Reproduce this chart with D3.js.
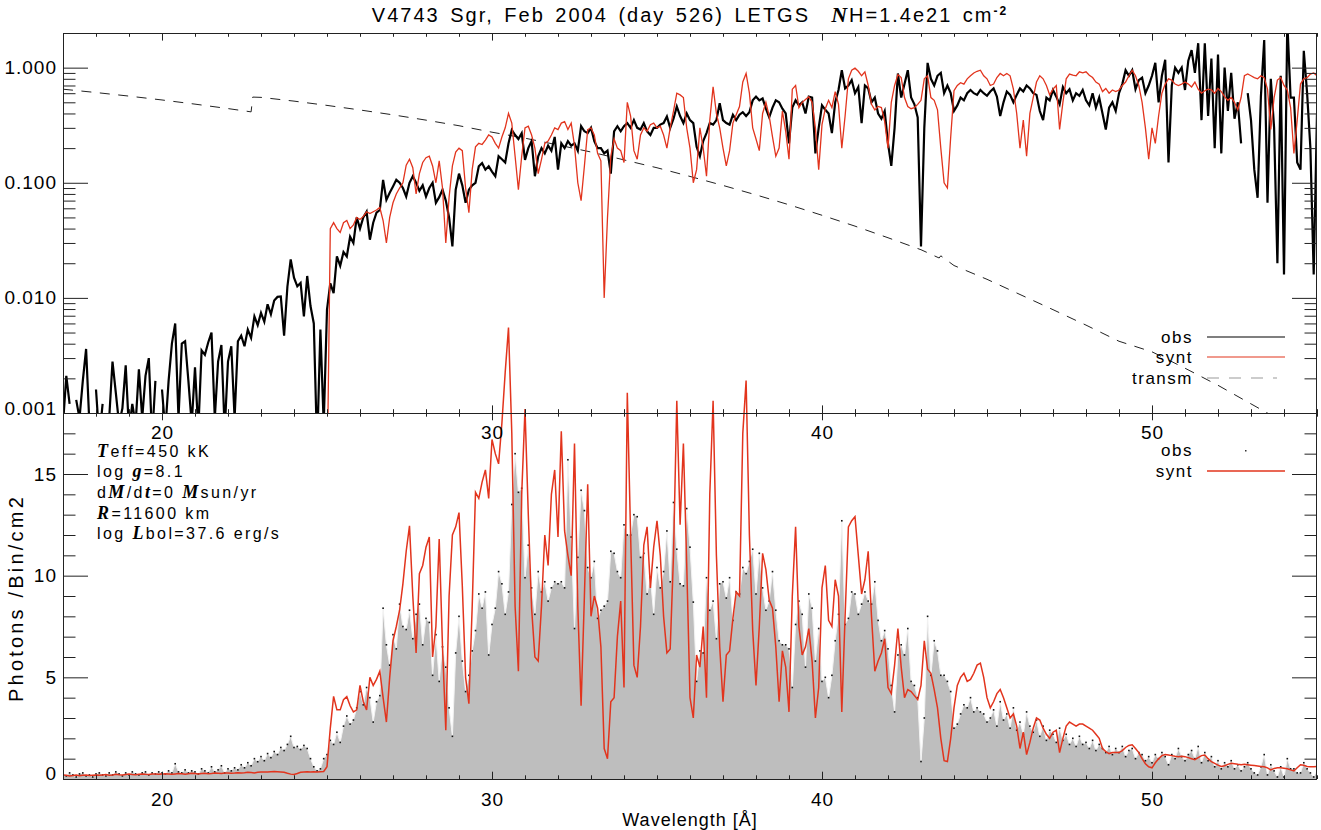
<!DOCTYPE html>
<html>
<head>
<meta charset="utf-8">
<script src="https://cdn.jsdelivr.net/npm/d3@7"></script>
<style>
  body { margin: 0; background: #fff; }
  text { white-space: pre; }
</style>
</head>
<body>
<svg id="chart" width="1321" height="830"></svg>
<script>
// ---- data ----
const waveStart = 17.0;      // first bin, Angstrom
const waveStep = 0.1;        // bin width, Angstrom
const topSyntStart = 25.0;   // model flux only plotted from here

// observed flux (top panel, log scale); null = negative / no data
const topObs = [
  0.0008,0.0021,0.0012,null,0.0013,0.0009,0.0019,0.0036,0.0008,null,
  0.0016,0.0006,0.0012,null,0.0009,0.0028,0.0015,0.0008,0.0011,0.0026,
  0.0007,0.0012,0.0008,0.0024,0.0009,0.0021,0.003,0.0006,0.0019,null,
  0.0016,0.0007,0.0019,0.004,0.006,0.0009,0.004,0.0042,0.0019,0.0008,
  0.0025,0.0007,0.0035,0.0032,0.0041,0.005,0.0009,0.0028,0.0039,0.0007,
  0.0028,0.0038,0.0009,0.0042,0.0047,0.0038,0.0053,0.0045,0.0069,0.0058,
  0.0074,0.0062,0.0088,0.0072,0.0095,0.0102,0.0103,0.0047,0.0125,0.0216,
  0.015,0.0126,0.0135,0.0069,0.0155,0.0085,0.006,0.0005,0.0053,0.0008,
  0.0079,0.0134,0.011,0.0229,0.019,0.025,0.0229,0.034,0.03,0.05,
  0.04,0.05,0.056,0.032,0.045,0.055,0.058,0.106,0.071,0.082,
  0.093,0.106,0.1,0.09,0.076,0.1,0.114,0.1,0.085,0.095,
  0.076,0.09,0.1,0.067,0.075,0.087,0.07,0.05,0.028,0.087,
  0.12,0.095,0.067,0.087,0.095,0.1,0.139,0.148,0.13,0.139,
  0.125,0.114,0.17,0.16,0.15,0.22,0.288,0.26,0.24,0.27,
  0.158,0.2,0.23,0.114,0.17,0.2,0.18,0.21,0.19,0.25,
  0.13,0.22,0.2,0.23,0.21,0.22,0.19,0.31,0.28,0.27,
  0.3,0.23,0.2,0.2,0.18,0.19,0.12,0.28,0.31,0.28,
  0.31,0.33,0.3,0.35,0.3,0.29,0.33,0.28,0.26,0.3,
  0.3,0.32,0.33,0.376,0.3,0.36,0.46,0.38,0.33,0.4,
  0.35,0.33,0.206,0.17,0.23,0.27,0.33,0.32,0.35,0.49,
  0.35,0.33,0.32,0.39,0.35,0.39,0.41,0.38,0.41,0.52,
  0.56,0.52,0.54,0.44,0.37,0.45,0.52,0.5,0.44,0.4,
  0.22,0.45,0.52,0.47,0.5,0.4,0.56,0.55,0.18,0.3,
  0.47,0.43,0.4,0.27,0.5,0.64,0.95,0.66,0.7,0.78,
  0.6,0.68,0.33,0.7,0.66,0.5,0.55,0.4,0.36,0.42,
  0.22,0.14,0.3,0.89,0.55,0.72,0.95,0.55,0.48,0.37,
  0.028,0.3,1.1,0.8,0.7,0.85,0.9,0.6,0.7,0.6,
  0.42,0.47,0.55,0.52,0.6,0.64,0.6,0.58,0.64,0.6,
  0.57,0.62,0.66,0.56,0.38,0.5,0.62,0.58,0.5,0.58,
  0.66,0.62,0.7,0.66,0.6,0.58,0.42,0.35,0.55,0.52,
  0.64,0.56,0.48,0.68,0.6,0.65,0.52,0.6,0.57,0.64,
  0.52,0.47,0.6,0.45,0.55,0.4,0.29,0.45,0.5,0.42,
  0.6,0.72,0.95,0.85,0.95,0.65,0.78,0.82,0.6,0.7,
  0.85,1.1,0.5,0.85,1.17,0.15,0.7,1.0,0.9,1.0,
  0.64,1.15,1.42,0.9,1.63,0.35,1.63,0.38,1.2,0.2,
  1.3,0.18,1.0,0.42,0.9,0.36,0.5,0.22,null,0.6,
  0.35,0.13,0.074,0.56,1.74,0.067,0.8,0.3,0.02,0.85,
  0.016,2.5,0.55,0.55,0.15,0.13,1.4,0.6,0.2,0.016,
  0.4
];

// synthetic flux (top panel), from 25.0 A
const topSynt = [
  0.0002,0.04,0.045,0.04,0.037,0.045,0.047,0.04,0.043,0.05,
  0.048,0.051,0.056,0.054,0.056,0.058,0.061,0.047,0.03,0.05,
  0.067,0.08,0.09,0.1,0.142,0.16,0.135,0.08,0.12,0.15,
  0.165,0.17,0.14,0.1,0.155,0.09,0.03,0.075,0.14,0.185,
  0.2,0.19,0.09,0.055,0.13,0.205,0.22,0.215,0.235,0.26,
  0.25,0.22,0.2,0.25,0.3,0.4,0.33,0.17,0.087,0.17,
  0.3,0.31,0.26,0.2,0.12,0.16,0.22,0.23,0.26,0.3,
  0.29,0.33,0.34,0.29,0.33,0.21,0.1,0.07,0.14,0.29,
  0.3,0.26,0.18,0.155,0.01,0.05,0.17,0.24,0.2,0.19,
  0.15,0.5,0.38,0.19,0.16,0.26,0.3,0.28,0.32,0.33,
  0.3,0.31,0.26,0.2,0.3,0.42,0.6,0.58,0.55,0.3,
  0.2,0.1,0.13,0.3,0.2,0.114,0.35,0.68,0.4,0.3,
  0.2,0.14,0.19,0.33,0.39,0.46,0.75,0.89,0.6,0.3,
  0.24,0.19,0.4,0.5,0.38,0.25,0.17,0.2,0.42,0.28,
  0.16,0.65,0.7,0.45,0.5,0.53,0.56,0.5,0.3,0.13,
  0.32,0.44,0.52,0.45,0.62,0.48,0.2,0.38,0.8,0.95,
  0.99,0.93,0.85,0.92,0.7,0.48,0.43,0.46,0.45,0.34,
  0.2,0.5,0.7,0.87,0.82,0.55,0.46,0.44,0.45,0.48,
  0.52,0.8,0.85,0.55,0.52,0.43,0.2,0.1,0.09,0.25,
  0.63,0.7,0.74,0.72,0.8,0.85,0.9,0.93,0.95,0.85,
  0.8,0.7,0.72,0.82,0.89,0.85,0.89,0.85,0.65,0.4,
  0.2,0.35,0.17,0.4,0.55,0.75,0.85,0.8,0.7,0.58,
  0.65,0.7,0.29,0.5,0.8,0.88,0.86,0.85,0.92,0.9,
  0.92,0.86,0.82,0.75,0.72,0.62,0.66,0.6,0.64,0.62,
  0.64,0.7,0.75,0.85,0.95,0.85,0.7,0.5,0.3,0.16,
  0.3,0.22,0.38,0.6,0.72,0.8,0.78,0.72,0.7,0.72,
  0.75,0.72,0.68,0.75,0.65,0.6,0.63,0.65,0.64,0.6,
  0.66,0.62,0.56,0.52,0.55,0.5,0.43,0.55,0.85,0.88,
  0.85,0.82,0.8,0.85,0.82,0.65,0.29,0.55,0.78,0.82,
  0.7,0.64,0.45,0.18,0.35,0.72,0.8,0.82,0.88,0.9,
  0.85
];

// observed counts per bin (bottom panel)
const countsObs = [
  0.25,0.15,0.3,0.2,0.1,0.25,0.3,0.15,0.2,0.1,
  0.25,0.3,0.2,0.15,0.3,0.2,0.35,0.25,0.15,0.3,
  0.2,0.35,0.25,0.2,0.3,0.35,0.2,0.3,0.25,0.35,
  0.3,0.25,0.4,0.3,0.75,0.35,0.3,0.45,0.3,0.4,
  0.35,0.25,0.5,0.4,0.3,0.6,0.35,0.45,0.65,0.3,
  0.5,0.4,0.55,0.45,0.7,0.55,0.8,0.65,1.0,0.85,
  1.1,0.9,1.25,1.05,1.35,1.2,1.55,1.4,1.7,2.1,
  1.55,1.6,1.45,1.65,1.5,1.0,0.6,0.4,0.5,1.0,
  1.2,1.9,1.7,2.3,1.8,2.6,3.1,2.7,2.9,3.5,
  4.3,3.65,4.5,4.0,2.8,3.8,4.1,8.4,6.6,5.6,
  7.1,6.4,8.6,7.5,7.35,8.3,6.9,8.1,8.6,6.6,
  7.9,7.7,5.1,7.1,4.8,6.5,5.5,3.5,2.1,6.2,
  8.0,5.8,4.3,5.1,6.3,7.3,9.1,8.4,9.2,6.1,
  7.6,8.4,10.2,9.6,8.1,9.2,13.5,16.0,14.1,14.3,
  9.9,11.5,9.4,8.1,10.2,9.2,9.7,8.75,9.4,9.7,
  9.6,9.7,9.4,15.7,11.9,7.4,10.9,14.2,13.2,10.4,
  9.9,10.7,7.9,8.3,8.5,8.75,11.2,11.1,10.2,9.9,
  12.5,12.0,12.0,13.0,12.9,10.9,11.1,9.1,9.9,8.1,
  10.4,9.4,10.2,12.2,9.7,13.6,11.3,9.6,9.5,13.3,
  11.4,8.7,4.8,6.3,6.2,9.9,8.3,8.75,6.9,9.6,
  9.7,8.9,9.9,7.8,9.2,9.1,10.4,10.1,10.7,11.3,
  9.1,11.1,9.4,8.3,8.75,10.2,8.3,6.8,6.6,6.6,
  6.4,4.5,7.6,8.75,8.1,5.5,9.1,8.4,5.8,7.4,
  4.8,5.0,4.0,5.1,6.8,8.1,12.7,7.6,7.9,9.2,
  9.1,8.1,8.6,9.2,8.75,8.6,9.7,7.8,6.8,7.3,
  6.4,4.6,3.3,6.1,6.6,6.1,7.4,4.8,4.6,4.0,
  0.86,3.0,8.0,5.1,6.8,6.3,5.1,5.1,4.8,4.3,
  2.5,2.7,3.2,3.65,3.5,4.0,3.3,3.5,3.3,3.2,
  2.8,3.0,3.4,2.6,3.8,2.9,3.2,2.5,3.5,2.4,
  2.8,2.2,3.3,2.6,2.3,2.9,2.1,2.6,1.9,2.4,
  2.2,1.8,2.5,1.9,2.2,1.7,2.0,1.6,2.1,1.7,
  1.8,1.5,1.9,1.4,1.7,1.5,1.3,1.6,1.2,1.5,
  1.3,1.6,1.1,1.4,1.5,1.0,1.3,1.2,0.9,1.1,
  0.8,1.2,1.0,1.3,1.1,0.7,1.2,1.0,1.5,1.1,
  0.9,1.2,1.4,1.0,1.6,0.8,1.3,0.9,1.1,0.6,
  0.9,0.5,0.8,0.6,0.9,0.5,0.7,0.4,0.6,0.8,
  0.5,0.3,0.2,0.6,1.2,0.2,0.7,0.4,0.1,0.6,
  0.1,1.0,0.5,0.5,0.3,0.3,0.8,0.5,0.3,0.1,
  0.4
];

// synthetic counts per bin (bottom panel)
const countsSynt = [
  0.2,0.18,0.15,0.17,0.2,0.16,0.18,0.2,0.17,0.19,
  0.2,0.18,0.2,0.22,0.19,0.2,0.23,0.21,0.2,0.22,
  0.24,0.22,0.21,0.23,0.25,0.23,0.22,0.24,0.25,0.23,
  0.24,0.26,0.25,0.23,0.25,0.27,0.26,0.24,0.26,0.28,
  0.27,0.25,0.27,0.28,0.26,0.27,0.29,0.28,0.27,0.29,
  0.3,0.28,0.29,0.31,0.3,0.31,0.33,0.32,0.3,0.33,
  0.34,0.35,0.34,0.36,0.37,0.36,0.35,0.33,0.28,0.24,
  0.22,0.27,0.33,0.35,0.36,0.35,0.36,0.35,0.36,0.37,
  0.6,2.5,4.06,3.4,3.4,3.9,4.05,3.6,3.3,3.4,
  4.6,3.8,3.4,5.0,4.6,4.9,5.3,4.0,2.8,5.0,
  6.8,7.5,8.3,9.6,11.2,12.45,9.0,6.2,10.1,10.5,
  11.4,11.9,6.0,7.5,11.8,6.5,2.4,9.0,12.0,12.4,
  13.1,9.5,5.0,3.7,8.5,14.1,13.8,14.6,15.2,13.8,
  16.7,16.0,15.5,17.5,20.0,22.2,17.0,8.5,5.3,14.0,
  18.2,13.0,8.4,6.0,5.8,8.5,12.0,10.5,14.0,15.2,
  11.9,17.1,12.2,11.0,10.0,16.5,8.5,3.6,9.0,14.5,
  8.0,9.0,8.4,6.5,1.5,1.0,3.8,4.0,7.0,8.75,
  4.5,19.0,12.0,5.6,5.0,7.5,11.5,12.4,9.4,11.4,
  12.7,11.0,8.0,6.2,6.4,11.0,18.6,12.5,16.5,10.6,
  4.0,3.0,6.1,5.5,7.5,4.0,14.0,18.6,11.0,6.5,
  3.8,6.1,6.3,7.9,9.2,9.0,17.0,19.6,12.0,7.3,
  4.6,7.5,11.1,10.3,8.8,8.4,6.5,3.8,6.3,5.5,
  3.3,9.0,12.4,7.5,6.1,6.5,7.4,5.8,3.0,4.5,
  9.4,10.5,7.8,7.5,9.8,9.0,3.3,8.0,12.4,12.7,
  12.9,11.0,9.1,9.8,11.2,8.0,5.3,5.8,6.2,6.9,
  4.5,4.2,5.6,7.4,5.5,4.0,4.4,4.3,4.1,3.9,
  4.6,6.8,5.4,5.2,4.4,3.5,2.0,0.9,0.86,2.0,
  3.5,4.6,5.0,5.2,4.8,4.9,5.2,5.6,5.7,5.0,
  4.0,3.5,3.8,4.2,4.4,4.0,3.5,3.0,3.2,2.6,
  1.5,2.3,1.2,1.8,2.5,3.0,2.9,2.5,2.2,2.0,
  2.3,2.4,1.3,2.0,2.6,2.8,2.7,2.6,2.7,2.7,
  2.6,2.5,2.4,2.2,2.0,1.5,1.35,1.25,1.3,1.3,
  1.3,1.4,1.55,1.65,1.68,1.5,1.3,1.0,0.75,0.6,
  0.55,0.8,1.0,1.15,1.2,1.18,1.15,1.12,1.1,1.12,
  1.1,1.05,1.0,0.95,1.05,1.15,1.18,1.0,0.85,0.77,
  0.68,0.62,0.65,0.72,0.77,0.75,0.72,0.7,0.72,0.7,
  0.68,0.66,0.64,0.62,0.6,0.55,0.45,0.52,0.55,0.55,
  0.53,0.5,0.45,0.4,0.55,0.7,0.68,0.62,0.6,0.6,
  0.62
];

// ISM transmission for NH=1.4e21
const transmWave = [17,18,19,20,21,22,22.7,22.75,23,24,25,26,27,28,29,30,31,32,33,34,35,36,37,38,39,40,
  41,42,43,43.55,43.6,44,45,46,47,48,49,50,51,52,53,54,55];
const transmVals = [0.65,0.608,0.566,0.524,0.482,0.441,0.413,0.555,0.552,0.512,0.47,0.429,0.389,0.35,
  0.313,0.275,0.244,0.213,0.185,0.158,0.135,0.1135,0.0948,0.0785,0.0644,0.0522,0.042,0.0333,0.0262,
  0.0222,0.0232,0.0191,0.0145,0.0107,0.0079,0.0058,0.0042,0.0034,0.00245,0.00174,0.0012,0.00083,0.00056];

const xMajor = [20, 30, 40, 50];
const topYMajor = [0.001, 0.01, 0.1, 1];
const botYMajor = [0, 5, 10, 15];

const titleParts = [["V4743 Sgr, Feb 2004 (day 526) LETGS  ", "n"], ["N", "i"], ["H=1.4e21 cm", "n"], ["-2", "s"]];
const paramLines = [
  [["T", "i"], ["eff=450 kK", "n"]],
  [["log ", "n"], ["g", "i"], ["=8.1", "n"]],
  [["d", "n"], ["M", "i"], ["/d", "n"], ["t", "i"], ["=0 ", "n"], ["M", "i"], ["sun/yr", "n"]],
  [["R", "i"], ["=11600 km", "n"]],
  [["log ", "n"], ["L", "i"], ["bol=37.6 erg/s", "n"]]
];

// ---- layout ----
const W = 1321, H = 830;
const left = 63, right = 1317, top1 = 33, mid = 413, bot = 779;
const FONT = '"Liberation Sans", Arial, sans-serif';
const SERIF = '"Liberation Serif", "DejaVu Serif", serif';
const RED = "#e2341d";

const svg = d3.select("#chart");
svg.append("rect").attr("width", W).attr("height", H).attr("fill", "#fff");

const x = d3.scaleLinear().domain([17, 55]).range([left, right]);
const yLog = d3.scaleLog().domain([0.001, 2]).range([mid, top1]);
const yLin = d3.scaleLinear().domain([0, 18]).range([bot, mid]);

const defs = svg.append("defs");
function clip(id, y0, y1) {
  defs.append("clipPath").attr("id", id).append("rect")
    .attr("x", left).attr("y", y0).attr("width", right - left).attr("height", y1 - y0);
}
clip("clipTop", top1, mid);
clip("clipBot", mid, bot);
clip("clipBotUp", 0, bot);

const wave = i => +(waveStart + i * waveStep).toFixed(2);
const obsPts = topObs.map((v, i) => ({ w: wave(i), v }));
const syntPts = topSynt.map((v, i) => ({ w: +(topSyntStart + i * waveStep).toFixed(2), v }));
const cObs = countsObs.map((v, i) => ({ w: wave(i), v }));
const cSynt = countsSynt.map((v, i) => ({ w: wave(i), v }));
const trPts = transmWave.map((w, i) => ({ w, v: transmVals[i] }));

// ---- top panel ----
const gTop = svg.append("g").attr("clip-path", "url(#clipTop)");
const logLine = d3.line().defined(d => d.v != null && d.v > 0).x(d => x(d.w)).y(d => yLog(d.v));

gTop.append("path").datum(trPts).attr("d", logLine)
  .attr("fill", "none").attr("stroke", "#222").attr("stroke-width", 1).attr("stroke-dasharray", "10,8.5");

gTop.append("path").datum(obsPts).attr("d", logLine)
  .attr("fill", "none").attr("stroke", "#000").attr("stroke-width", 2.2).attr("stroke-linejoin", "miter");

// isolated points (neighbours undefined) drawn as dots
const lonely = obsPts.filter((d, i) => d.v != null &&
  (i === 0 || obsPts[i - 1].v == null) && (i === obsPts.length - 1 || obsPts[i + 1].v == null));
gTop.selectAll("rect.lonely").data(lonely).join("rect").attr("class", "lonely")
  .attr("x", d => x(d.w) - 1).attr("y", d => yLog(d.v) - 1).attr("width", 2).attr("height", 2).attr("fill", "#000");

gTop.append("path").datum(syntPts).attr("d", logLine)
  .attr("fill", "none").attr("stroke", RED).attr("stroke-width", 1.3);

// ---- bottom panel ----
const gBot = svg.append("g").attr("clip-path", "url(#clipBot)");
gBot.append("path").datum(cObs)
  .attr("d", d3.area().x(d => x(d.w)).y0(bot).y1(d => yLin(d.v)))
  .attr("fill", "#bebebe");
gBot.append("path").datum(cObs)
  .attr("d", d3.line().x(d => x(d.w)).y(d => yLin(d.v)))
  .attr("fill", "none").attr("stroke", "#f3f3f3").attr("stroke-width", 1);
gBot.selectAll("rect.dot").data(cObs).join("rect").attr("class", "dot")
  .attr("x", d => x(d.w) - 0.8).attr("y", d => yLin(d.v) - 0.8)
  .attr("width", 1.6).attr("height", 1.6).attr("fill", "#111");

svg.append("g").attr("clip-path", "url(#clipBotUp)")
  .append("path").datum(cSynt)
  .attr("d", d3.line().x(d => x(d.w)).y(d => yLin(d.v)))
  .attr("fill", "none").attr("stroke", RED).attr("stroke-width", 1.5);

// ---- axes ----
function axis(gen, scale, values, size, pos, fmt, pad) {
  const a = gen(scale).tickValues(values).tickSize(size).tickPadding(pad || 0)
    .tickFormat(fmt || (() => ""));
  const g = svg.append("g").attr("transform", pos).call(a);
  g.select(".domain").remove();
  g.attr("font-family", null).attr("font-size", null);
  g.selectAll("line").attr("stroke", "#222");
  g.selectAll("text").attr("font-family", FONT).attr("font-size", 19)
    .attr("letter-spacing", 1).attr("fill", "#000");
  return g;
}
const xMinor = d3.range(17, 56).filter(v => !xMajor.includes(v));
const topYMinor = [];
[0.001, 0.01, 0.1].forEach(dec => d3.range(2, 10).forEach(k => topYMinor.push(+(k * dec).toPrecision(2))));
const botYMinor = d3.range(1, 18).filter(v => !botYMajor.includes(v));

// top panel x axes
axis(d3.axisBottom, x, xMajor, -7.6, `translate(0,${mid})`, d3.format("d"), 13);
axis(d3.axisBottom, x, xMinor, -3.8, `translate(0,${mid})`);
axis(d3.axisTop, x, xMajor, -7.6, `translate(0,${top1})`);
axis(d3.axisTop, x, xMinor, -3.8, `translate(0,${top1})`);
// bottom panel x axes
axis(d3.axisTop, x, xMajor, -7.3, `translate(0,${mid})`);
axis(d3.axisTop, x, xMinor, -3.7, `translate(0,${mid})`);
axis(d3.axisBottom, x, xMajor, -7.3, `translate(0,${bot})`, d3.format("d"), 14);
axis(d3.axisBottom, x, xMinor, -3.7, `translate(0,${bot})`);
// top panel y axes
const yTopLab = axis(d3.axisLeft, yLog, topYMajor, -25, `translate(${left},0)`, d3.format(".3f"), 6);
axis(d3.axisLeft, yLog, topYMinor, -12.5, `translate(${left},0)`);
axis(d3.axisRight, yLog, topYMajor, -25, `translate(${right},0)`);
axis(d3.axisRight, yLog, topYMinor, -12.5, `translate(${right},0)`);
// bottom panel y axes
const yBotLab = axis(d3.axisLeft, yLin, botYMajor, -25, `translate(${left},0)`, d3.format("d"), 6);
axis(d3.axisLeft, yLin, botYMinor, -12.5, `translate(${left},0)`);
axis(d3.axisRight, yLin, botYMajor, -25, `translate(${right},0)`);
axis(d3.axisRight, yLin, botYMinor, -12.5, `translate(${right},0)`);
// lowest labels sit a little above their tick
yTopLab.selectAll("text").filter(d => d === 0.001).attr("y", -5);
yBotLab.selectAll("text").filter(d => d === 0).attr("y", -6);

// frames
[[top1, mid], [mid, bot]].forEach(([a, b]) => {
  svg.append("rect").attr("x", left + 0.5).attr("y", a + 0.5)
    .attr("width", right - left - 1).attr("height", b - a)
    .attr("fill", "none").attr("stroke", "#222").attr("stroke-width", 1);
});

// ---- texts ----
function rich(parent, parts, size) {
  parts.forEach(([s, kind]) => {
    const t = parent.append("tspan").text(s);
    if (kind === "i") t.attr("font-family", SERIF).attr("font-style", "italic")
      .attr("font-weight", "bold").attr("font-size", size + 2);
    if (kind === "s") t.attr("font-size", size * 0.6).attr("baseline-shift", "super").attr("font-weight", "bold");
  });
}
const title = svg.append("text").attr("x", (left + right) / 2).attr("y", 22)
  .attr("text-anchor", "middle").attr("font-family", FONT).attr("font-size", 20)
  .attr("letter-spacing", 2).attr("word-spacing", 3);
rich(title, titleParts, 20);

paramLines.forEach((parts, i) => {
  const t = svg.append("text").attr("x", 97).attr("y", [451, 471, 492, 513, 533][i])
    .attr("dy", "0.35em").attr("font-family", FONT).attr("font-size", 16).attr("letter-spacing", 2.4);
  rich(t, parts, 16);
});

svg.append("text").attr("x", (left + right) / 2).attr("y", 820).attr("dy", "0.35em")
  .attr("text-anchor", "middle").attr("font-family", FONT).attr("font-size", 18).attr("letter-spacing", 1)
  .text("Wavelength [Å]");
svg.append("text").attr("transform", "translate(16,598) rotate(-90)").attr("dy", "0.35em")
  .attr("text-anchor", "middle").attr("font-family", FONT).attr("font-size", 20).attr("letter-spacing", 3.2)
  .text("Photons /Bin/cm2");

// legends
const legTop = [
  { label: "obs", y: 337, stroke: "#000", dash: null, x2: 1285 },
  { label: "synt", y: 357, stroke: RED, dash: null, x2: 1285 },
  { label: "transm", y: 378, stroke: "#999", dash: "12,10", x2: 1277 }
];
function legText(label, y) {
  svg.append("text").attr("x", 1193).attr("y", y).attr("dy", "0.35em").attr("text-anchor", "end")
    .attr("font-family", FONT).attr("font-size", 17).attr("letter-spacing", 1.5).text(label);
}
legTop.forEach(d => {
  legText(d.label, d.y);
  svg.append("line").attr("x1", 1207).attr("x2", d.x2).attr("y1", d.y).attr("y2", d.y)
    .attr("stroke", d.stroke).attr("stroke-width", 1.2).attr("stroke-dasharray", d.dash);
});
legText("obs", 450);
svg.append("rect").attr("x", 1245).attr("y", 450).attr("width", 1.5).attr("height", 1.5).attr("fill", "#333");
legText("synt", 471);
svg.append("line").attr("x1", 1207).attr("x2", 1285).attr("y1", 471).attr("y2", 471)
  .attr("stroke", RED).attr("stroke-width", 1.5);
</script>
</body>
</html>
